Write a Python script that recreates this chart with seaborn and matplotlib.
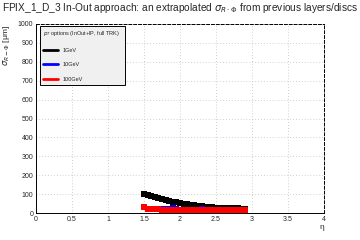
import numpy as np
import pandas as pd
import matplotlib
matplotlib.use("Agg")
import matplotlib.pyplot as plt
import seaborn as sns
from matplotlib.lines import Line2D
from matplotlib.ticker import MultipleLocator

eta = [1.50, 1.55, 1.60, 1.65, 1.70, 1.75, 1.80, 1.85, 1.90, 1.95,
       2.00, 2.05, 2.10, 2.15, 2.20, 2.25, 2.30, 2.35, 2.40, 2.45,
       2.50, 2.55, 2.60, 2.65, 2.70, 2.75, 2.80, 2.85, 2.90]
sigma_1gev = [102, 96, 90, 84, 80, 73, 69, 63, 59, 56,
              52, 48, 45, 43, 40, 38, 36, 34, 33, 31,
              29, 27, 26, 25, 25, 24, 24, 22, 20]
sigma_10gev = [34, 22, 21, 20, 20, 19, 19, 19, 24, 19,
               18, 18, 18, 18, 18, 18, 23, 17, 17, 17,
               17, 17, 17, 17, 16, 16, 16, 16, 15]
sigma_100gev = [30, 20, 19, 19, 19, 18, 18, 18, 18, 18,
                18, 18, 18, 17, 17, 17, 17, 17, 17, 17,
                17, 17, 17, 17, 16, 16, 16, 16, 15]
labels = ["1GeV", "10GeV", "100GeV"]
colors = ["black", "blue", "red"]
xticks = [0, 0.5, 1, 1.5, 2, 2.5, 3, 3.5, 4]
xticklabels = ["0", "0.5", "1", "1.5", "2", "2.5", "3", "3.5", "4"]
yticks = [0, 100, 200, 300, 400, 500, 600, 700, 800, 900, 1000]

df = pd.concat([
    pd.DataFrame({"eta": eta, "sigma": s, "pt": lab})
    for s, lab in zip([sigma_1gev, sigma_10gev, sigma_100gev], labels)
])

sns.set_style("white")
plt.rcParams['font.family'] = ['Liberation Sans', 'DejaVu Sans']

fig = plt.figure(figsize=(3.6, 2.4), dpi=100)
ax = fig.add_axes([0.1, 0.1125, 0.8, 0.7875])

for lab, c in zip(labels, colors):
    sub = df[df.pt == lab]
    sns.scatterplot(data=sub, x="eta", y="sigma", ax=ax, color=c, marker="s",
                    s=17, linewidth=0, legend=False)

ax.set_xlim(0, 4)
ax.set_ylim(0, 1000)
ax.set_xticks(xticks)
ax.set_xticklabels(xticklabels)
ax.set_yticks(yticks)
ax.set_yticklabels([str(v) for v in yticks])
ax.xaxis.set_minor_locator(MultipleLocator(0.1))
ax.yaxis.set_minor_locator(MultipleLocator(20))
ax.tick_params(which="both", direction="in", top=False, right=False, labelsize=5, pad=2)
ax.tick_params(which="major", length=6, width=0.6)
ax.tick_params(which="minor", length=3, width=0.6)
ax.grid(True, which="major", linestyle=(0, (1, 2.5)), color="#c0c0c0", linewidth=0.6)

for side in ["top", "right"]:
    ax.spines[side].set_linestyle((0, (3, 2)))
for sp in ax.spines.values():
    sp.set_color("black")
    sp.set_linewidth(0.7)

ax.set_xlabel("η", fontsize=6, loc="right", labelpad=1)
ax.set_ylabel(r"$\sigma_{R-\Phi}$ [μm]", fontsize=6, loc="top", labelpad=4)
fig.suptitle(r"FPIX_1_D_3 In-Out approach: an extrapolated $\sigma_{R\cdot\Phi}$ from previous layers/discs",
             fontsize=7.3, y=0.995)

handles = [Line2D([0], [0], color=c, lw=2) for c in colors]
leg = ax.legend(handles, labels, title=r"$p_T$ options (InOut+IP, full TRK):",
                loc="upper left", bbox_to_anchor=(40/360, 1 - 26/240),
                bbox_transform=fig.transFigure, fontsize=4, title_fontsize=4,
                frameon=True, fancybox=False, borderpad=0.6, labelspacing=1.7,
                handlelength=2.6, handletextpad=0.8, borderaxespad=0,
                alignment="left")
leg.get_frame().set_facecolor("#f0f0f0")
leg.get_frame().set_edgecolor("black")
leg.get_frame().set_linewidth(0.7)
leg.get_frame().set_alpha(1)

fig.savefig("out.png", dpi=100)
